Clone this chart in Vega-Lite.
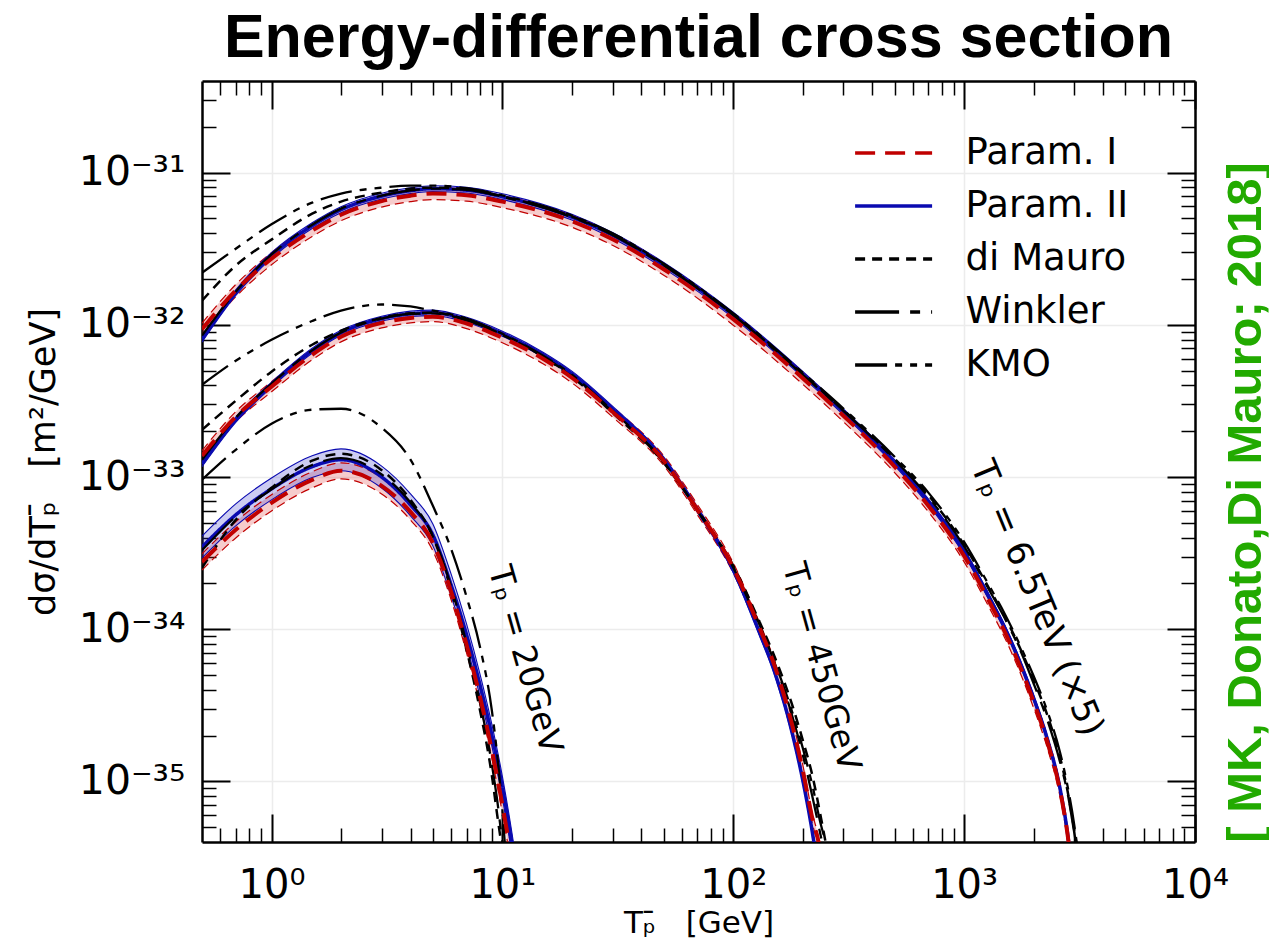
{
"$schema": "https://vega.github.io/schema/vega-lite/v6.json",
"width": 993, "height": 761,
"autosize": {"type": "none"},
"padding": {"left": 202, "top": 81, "right": 74, "bottom": 99},
"background": "white",
"title": {"text": "Energy-differential cross section", "font": "Liberation Sans", "fontSize": 61, "fontWeight": "bold", "color": "black", "anchor": "middle", "frame": "group", "baseline": "alphabetic", "offset": -38},
"datasets": {
"curves": [
{"g":"c","m":"Param. II","x":0.5,"y":8.04e-33,"lo":7.69e-33,"hi":8.40e-33},
{"g":"c","m":"Param. II","x":0.7,"y":1.63e-32,"lo":1.56e-32,"hi":1.70e-32},
{"g":"c","m":"Param. II","x":1,"y":2.85e-32,"lo":2.73e-32,"hi":2.98e-32},
{"g":"c","m":"Param. II","x":1.5,"y":4.48e-32,"lo":4.29e-32,"hi":4.68e-32},
{"g":"c","m":"Param. II","x":2,"y":5.71e-32,"lo":5.46e-32,"hi":5.97e-32},
{"g":"c","m":"Param. II","x":3,"y":7.01e-32,"lo":6.71e-32,"hi":7.33e-32},
{"g":"c","m":"Param. II","x":4,"y":7.61e-32,"lo":7.28e-32,"hi":7.95e-32},
{"g":"c","m":"Param. II","x":5,"y":7.85e-32,"lo":7.51e-32,"hi":8.20e-32},
{"g":"c","m":"Param. II","x":7,"y":7.67e-32,"lo":7.34e-32,"hi":8.02e-32},
{"g":"c","m":"Param. II","x":10,"y":6.95e-32,"lo":6.65e-32,"hi":7.26e-32},
{"g":"c","m":"Param. II","x":20,"y":5.10e-32,"lo":4.88e-32,"hi":5.33e-32},
{"g":"c","m":"Param. II","x":30,"y":3.88e-32,"lo":3.71e-32,"hi":4.05e-32},
{"g":"c","m":"Param. II","x":50,"y":2.46e-32,"lo":2.35e-32,"hi":2.57e-32},
{"g":"c","m":"Param. II","x":100,"y":1.16e-32,"lo":1.11e-32,"hi":1.21e-32},
{"g":"c","m":"Param. II","x":200,"y":4.73e-33,"lo":4.53e-33,"hi":4.94e-33},
{"g":"c","m":"Param. II","x":300,"y":2.68e-33,"lo":2.56e-33,"hi":2.80e-33},
{"g":"c","m":"Param. II","x":500,"y":1.24e-33,"lo":1.19e-33,"hi":1.30e-33},
{"g":"c","m":"Param. II","x":700,"y":6.87e-34,"lo":6.57e-34,"hi":7.18e-34},
{"g":"c","m":"Param. II","x":1000,"y":3.22e-34,"lo":3.08e-34,"hi":3.36e-34},
{"g":"c","m":"Param. II","x":1300,"y":1.56e-34,"lo":1.49e-34,"hi":1.63e-34},
{"g":"c","m":"Param. II","x":1500,"y":1.02e-34,"lo":9.76e-35,"hi":1.066e-34},
{"g":"c","m":"Param. II","x":1800,"y":5.40e-35,"lo":5.17e-35,"hi":5.64e-35},
{"g":"c","m":"Param. II","x":2000,"y":3.53e-35,"lo":3.38e-35,"hi":3.69e-35},
{"g":"c","m":"Param. II","x":2300,"y":1.87e-35,"lo":1.79e-35,"hi":1.95e-35},
{"g":"c","m":"Param. II","x":2600,"y":9.05e-36,"lo":8.66e-36,"hi":9.46e-36},
{"g":"c","m":"Param. II","x":2800,"y":4.65e-36,"lo":4.45e-36,"hi":4.86e-36},
{"g":"c","m":"Param. II","x":2900,"y":3.04e-36,"lo":2.91e-36,"hi":3.18e-36},

{"g":"c","m":"Param. I","x":0.5,"y":9.36e-33,"lo":8.55e-33,"hi":1.025e-32},
{"g":"c","m":"Param. I","x":0.7,"y":1.68e-32,"lo":1.53e-32,"hi":1.84e-32},
{"g":"c","m":"Param. I","x":1,"y":2.72e-32,"lo":2.48e-32,"hi":2.98e-32},
{"g":"c","m":"Param. I","x":1.5,"y":4.16e-32,"lo":3.80e-32,"hi":4.56e-32},
{"g":"c","m":"Param. I","x":2,"y":5.29e-32,"lo":4.83e-32,"hi":5.79e-32},
{"g":"c","m":"Param. I","x":3,"y":6.50e-32,"lo":5.94e-32,"hi":7.12e-32},
{"g":"c","m":"Param. I","x":4,"y":7.06e-32,"lo":6.45e-32,"hi":7.73e-32},
{"g":"c","m":"Param. I","x":5,"y":7.28e-32,"lo":6.65e-32,"hi":7.97e-32},
{"g":"c","m":"Param. I","x":7,"y":7.11e-32,"lo":6.49e-32,"hi":7.79e-32},
{"g":"c","m":"Param. I","x":10,"y":6.45e-32,"lo":5.89e-32,"hi":7.06e-32},
{"g":"c","m":"Param. I","x":20,"y":4.80e-32,"lo":4.38e-32,"hi":5.26e-32},
{"g":"c","m":"Param. I","x":30,"y":3.65e-32,"lo":3.33e-32,"hi":4.00e-32},
{"g":"c","m":"Param. I","x":50,"y":2.32e-32,"lo":2.12e-32,"hi":2.54e-32},
{"g":"c","m":"Param. I","x":100,"y":1.09e-32,"lo":9.95e-33,"hi":1.19e-32},
{"g":"c","m":"Param. I","x":200,"y":4.46e-33,"lo":4.07e-33,"hi":4.88e-33},
{"g":"c","m":"Param. I","x":300,"y":2.53e-33,"lo":2.31e-33,"hi":2.77e-33},
{"g":"c","m":"Param. I","x":500,"y":1.17e-33,"lo":1.07e-33,"hi":1.28e-33},
{"g":"c","m":"Param. I","x":700,"y":6.47e-34,"lo":5.91e-34,"hi":7.08e-34},
{"g":"c","m":"Param. I","x":1000,"y":3.03e-34,"lo":2.77e-34,"hi":3.32e-34},
{"g":"c","m":"Param. I","x":1300,"y":1.47e-34,"lo":1.34e-34,"hi":1.61e-34},
{"g":"c","m":"Param. I","x":1500,"y":9.60e-35,"lo":8.77e-35,"hi":1.051e-34},
{"g":"c","m":"Param. I","x":1800,"y":5.08e-35,"lo":4.64e-35,"hi":5.56e-35},
{"g":"c","m":"Param. I","x":2000,"y":3.33e-35,"lo":3.04e-35,"hi":3.65e-35},
{"g":"c","m":"Param. I","x":2300,"y":1.79e-35,"lo":1.63e-35,"hi":1.96e-35},
{"g":"c","m":"Param. I","x":2600,"y":8.77e-36,"lo":8.01e-36,"hi":9.60e-36},
{"g":"c","m":"Param. I","x":2800,"y":4.58e-36,"lo":4.18e-36,"hi":5.02e-36},
{"g":"c","m":"Param. I","x":2900,"y":3.04e-36,"lo":2.78e-36,"hi":3.33e-36},

{"g":"c","m":"di Mauro","x":0.5,"y":1.44e-32},
{"g":"c","m":"di Mauro","x":0.7,"y":2.45e-32},
{"g":"c","m":"di Mauro","x":1,"y":3.63e-32},
{"g":"c","m":"di Mauro","x":1.5,"y":5.37e-32},
{"g":"c","m":"di Mauro","x":2,"y":6.45e-32},
{"g":"c","m":"di Mauro","x":3,"y":7.39e-32},
{"g":"c","m":"di Mauro","x":4,"y":7.85e-32},
{"g":"c","m":"di Mauro","x":5,"y":7.97e-32},
{"g":"c","m":"di Mauro","x":7,"y":7.8e-32},
{"g":"c","m":"di Mauro","x":10,"y":6.98e-32},
{"g":"c","m":"di Mauro","x":20,"y":5.15e-32},
{"g":"c","m":"di Mauro","x":30,"y":3.95e-32},
{"g":"c","m":"di Mauro","x":50,"y":2.48e-32},
{"g":"c","m":"di Mauro","x":100,"y":1.17e-32},
{"g":"c","m":"di Mauro","x":200,"y":4.75e-33},
{"g":"c","m":"di Mauro","x":300,"y":2.75e-33},
{"g":"c","m":"di Mauro","x":500,"y":1.32e-33},
{"g":"c","m":"di Mauro","x":700,"y":7.6e-34},
{"g":"c","m":"di Mauro","x":1000,"y":3.58e-34},
{"g":"c","m":"di Mauro","x":1300,"y":1.79e-34},
{"g":"c","m":"di Mauro","x":1500,"y":1.21e-34},
{"g":"c","m":"di Mauro","x":1800,"y":6.78e-35},
{"g":"c","m":"di Mauro","x":2000,"y":4.64e-35},
{"g":"c","m":"di Mauro","x":2300,"y":2.69e-35},
{"g":"c","m":"di Mauro","x":2600,"y":1.45e-35},
{"g":"c","m":"di Mauro","x":2800,"y":8.77e-36},
{"g":"c","m":"di Mauro","x":3000,"y":4.79e-36},
{"g":"c","m":"di Mauro","x":3100,"y":3.5e-36},

{"g":"c","m":"KMO","x":0.5,"y":2.20e-32},
{"g":"c","m":"KMO","x":0.7,"y":3.16e-32},
{"g":"c","m":"KMO","x":1,"y":4.58e-32},
{"g":"c","m":"KMO","x":1.5,"y":6.35e-32},
{"g":"c","m":"KMO","x":2,"y":7.28e-32},
{"g":"c","m":"KMO","x":3,"y":7.97e-32},
{"g":"c","m":"KMO","x":4,"y":8.21e-32},
{"g":"c","m":"KMO","x":5,"y":8.21e-32},
{"g":"c","m":"KMO","x":7,"y":7.9e-32},
{"g":"c","m":"KMO","x":10,"y":7.08e-32},
{"g":"c","m":"KMO","x":20,"y":5.22e-32},
{"g":"c","m":"KMO","x":30,"y":4.0e-32},
{"g":"c","m":"KMO","x":50,"y":2.52e-32},
{"g":"c","m":"KMO","x":100,"y":1.19e-32},
{"g":"c","m":"KMO","x":200,"y":4.85e-33},
{"g":"c","m":"KMO","x":300,"y":2.82e-33},
{"g":"c","m":"KMO","x":500,"y":1.36e-33},
{"g":"c","m":"KMO","x":700,"y":7.9e-34},
{"g":"c","m":"KMO","x":1000,"y":3.75e-34},
{"g":"c","m":"KMO","x":1300,"y":1.87e-34},
{"g":"c","m":"KMO","x":1500,"y":1.26e-34},
{"g":"c","m":"KMO","x":1800,"y":7.10e-35},
{"g":"c","m":"KMO","x":2000,"y":4.93e-35},
{"g":"c","m":"KMO","x":2300,"y":2.86e-35},
{"g":"c","m":"KMO","x":2600,"y":1.56e-35},
{"g":"c","m":"KMO","x":2800,"y":9.46e-36},
{"g":"c","m":"KMO","x":3000,"y":5.16e-36},
{"g":"c","m":"KMO","x":3100,"y":3.6e-36},

{"g":"c","m":"Winkler","x":0.5,"y":8.5e-33},
{"g":"c","m":"Winkler","x":0.7,"y":1.65e-32},
{"g":"c","m":"Winkler","x":1,"y":2.9e-32},
{"g":"c","m":"Winkler","x":1.5,"y":4.55e-32},
{"g":"c","m":"Winkler","x":2,"y":5.8e-32},
{"g":"c","m":"Winkler","x":3,"y":7.05e-32},
{"g":"c","m":"Winkler","x":4,"y":7.65e-32},
{"g":"c","m":"Winkler","x":5,"y":7.85e-32},
{"g":"c","m":"Winkler","x":7,"y":7.7e-32},
{"g":"c","m":"Winkler","x":10,"y":6.95e-32},
{"g":"c","m":"Winkler","x":20,"y":5.1e-32},
{"g":"c","m":"Winkler","x":30,"y":3.9e-32},
{"g":"c","m":"Winkler","x":50,"y":2.46e-32},
{"g":"c","m":"Winkler","x":100,"y":1.16e-32},
{"g":"c","m":"Winkler","x":200,"y":4.7e-33},
{"g":"c","m":"Winkler","x":300,"y":2.72e-33},
{"g":"c","m":"Winkler","x":500,"y":1.3e-33},
{"g":"c","m":"Winkler","x":700,"y":7.4e-34},
{"g":"c","m":"Winkler","x":1000,"y":3.5e-34},
{"g":"c","m":"Winkler","x":1300,"y":1.75e-34},
{"g":"c","m":"Winkler","x":1500,"y":1.18e-34},
{"g":"c","m":"Winkler","x":1800,"y":6.6e-35},
{"g":"c","m":"Winkler","x":2000,"y":4.4e-35},
{"g":"c","m":"Winkler","x":2300,"y":2.5e-35},
{"g":"c","m":"Winkler","x":2600,"y":1.35e-35},
{"g":"c","m":"Winkler","x":2800,"y":8.5e-36},
{"g":"c","m":"Winkler","x":3000,"y":4.6e-36},
{"g":"c","m":"Winkler","x":3100,"y":3.4e-36},

{"g":"b","m":"Param. II","x":0.5,"y":1.22e-33,"lo":1.17e-33,"hi":1.27e-33},
{"g":"b","m":"Param. II","x":0.7,"y":2.38e-33,"lo":2.29e-33,"hi":2.48e-33},
{"g":"b","m":"Param. II","x":1,"y":4.04e-33,"lo":3.88e-33,"hi":4.20e-33},
{"g":"b","m":"Param. II","x":1.5,"y":6.76e-33,"lo":6.50e-33,"hi":7.03e-33},
{"g":"b","m":"Param. II","x":2,"y":8.87e-33,"lo":8.53e-33,"hi":9.22e-33},
{"g":"b","m":"Param. II","x":3,"y":1.10e-32,"lo":1.06e-32,"hi":1.14e-32},
{"g":"b","m":"Param. II","x":4,"y":1.18e-32,"lo":1.135e-32,"hi":1.23e-32},
{"g":"b","m":"Param. II","x":5,"y":1.20e-32,"lo":1.15e-32,"hi":1.25e-32},
{"g":"b","m":"Param. II","x":7,"y":1.08e-32,"lo":1.04e-32,"hi":1.12e-32},
{"g":"b","m":"Param. II","x":10,"y":8.74e-33,"lo":8.40e-33,"hi":9.09e-33},
{"g":"b","m":"Param. II","x":15,"y":6.36e-33,"lo":6.12e-33,"hi":6.61e-33},
{"g":"b","m":"Param. II","x":20,"y":4.77e-33,"lo":4.59e-33,"hi":4.96e-33},
{"g":"b","m":"Param. II","x":30,"y":2.81e-33,"lo":2.70e-33,"hi":2.92e-33},
{"g":"b","m":"Param. II","x":50,"y":1.30e-33,"lo":1.25e-33,"hi":1.35e-33},
{"g":"b","m":"Param. II","x":70,"y":6.09e-34,"lo":5.86e-34,"hi":6.33e-34},
{"g":"b","m":"Param. II","x":100,"y":2.45e-34,"lo":2.36e-34,"hi":2.55e-34},
{"g":"b","m":"Param. II","x":130,"y":9.46e-35,"lo":9.10e-35,"hi":9.84e-35},
{"g":"b","m":"Param. II","x":150,"y":5.40e-35,"lo":5.19e-35,"hi":5.62e-35},
{"g":"b","m":"Param. II","x":180,"y":2.08e-35,"lo":2.00e-35,"hi":2.16e-35},
{"g":"b","m":"Param. II","x":200,"y":1.02e-35,"lo":9.81e-36,"hi":1.06e-35},
{"g":"b","m":"Param. II","x":220,"y":4.65e-36,"lo":4.47e-36,"hi":4.84e-36},
{"g":"b","m":"Param. II","x":230,"y":3.0e-36,"lo":2.88e-36,"hi":3.12e-36},

{"g":"b","m":"Param. I","x":0.5,"y":1.38e-33,"lo":1.28e-33,"hi":1.49e-33},
{"g":"b","m":"Param. I","x":0.7,"y":2.49e-33,"lo":2.31e-33,"hi":2.69e-33},
{"g":"b","m":"Param. I","x":1,"y":3.92e-33,"lo":3.63e-33,"hi":4.23e-33},
{"g":"b","m":"Param. I","x":1.5,"y":6.36e-33,"lo":5.89e-33,"hi":6.87e-33},
{"g":"b","m":"Param. I","x":2,"y":8.35e-33,"lo":7.73e-33,"hi":9.02e-33},
{"g":"b","m":"Param. I","x":3,"y":1.03e-32,"lo":9.54e-33,"hi":1.11e-32},
{"g":"b","m":"Param. I","x":4,"y":1.11e-32,"lo":1.03e-32,"hi":1.20e-32},
{"g":"b","m":"Param. I","x":5,"y":1.13e-32,"lo":1.05e-32,"hi":1.22e-32},
{"g":"b","m":"Param. I","x":7,"y":1.02e-32,"lo":9.44e-33,"hi":1.10e-32},
{"g":"b","m":"Param. I","x":10,"y":8.23e-33,"lo":7.62e-33,"hi":8.89e-33},
{"g":"b","m":"Param. I","x":15,"y":5.99e-33,"lo":5.55e-33,"hi":6.47e-33},
{"g":"b","m":"Param. I","x":20,"y":4.49e-33,"lo":4.16e-33,"hi":4.85e-33},
{"g":"b","m":"Param. I","x":30,"y":2.68e-33,"lo":2.48e-33,"hi":2.89e-33},
{"g":"b","m":"Param. I","x":50,"y":1.28e-33,"lo":1.19e-33,"hi":1.38e-33},
{"g":"b","m":"Param. I","x":70,"y":6.09e-34,"lo":5.64e-34,"hi":6.58e-34},
{"g":"b","m":"Param. I","x":100,"y":2.53e-34,"lo":2.34e-34,"hi":2.73e-34},
{"g":"b","m":"Param. I","x":130,"y":1.02e-34,"lo":9.44e-35,"hi":1.10e-34},
{"g":"b","m":"Param. I","x":150,"y":5.92e-35,"lo":5.48e-35,"hi":6.39e-35},
{"g":"b","m":"Param. I","x":180,"y":2.35e-35,"lo":2.18e-35,"hi":2.54e-35},
{"g":"b","m":"Param. I","x":200,"y":1.19e-35,"lo":1.10e-35,"hi":1.29e-35},
{"g":"b","m":"Param. I","x":220,"y":5.74e-36,"lo":5.31e-36,"hi":6.20e-36},
{"g":"b","m":"Param. I","x":235,"y":3.9e-36,"lo":3.61e-36,"hi":4.21e-36},
{"g":"b","m":"Param. I","x":245,"y":2.8e-36,"lo":2.59e-36,"hi":3.02e-36},

{"g":"b","m":"di Mauro","x":0.5,"y":2.04e-33},
{"g":"b","m":"di Mauro","x":0.7,"y":3.17e-33},
{"g":"b","m":"di Mauro","x":1,"y":4.92e-33},
{"g":"b","m":"di Mauro","x":1.5,"y":7.40e-33},
{"g":"b","m":"di Mauro","x":2,"y":9.15e-33},
{"g":"b","m":"di Mauro","x":3,"y":1.11e-32},
{"g":"b","m":"di Mauro","x":4,"y":1.19e-32},
{"g":"b","m":"di Mauro","x":5,"y":1.20e-32},
{"g":"b","m":"di Mauro","x":7,"y":1.08e-32},
{"g":"b","m":"di Mauro","x":10,"y":8.61e-33},
{"g":"b","m":"di Mauro","x":15,"y":6.17e-33},
{"g":"b","m":"di Mauro","x":20,"y":4.56e-33},
{"g":"b","m":"di Mauro","x":30,"y":2.64e-33},
{"g":"b","m":"di Mauro","x":50,"y":1.24e-33},
{"g":"b","m":"di Mauro","x":70,"y":6.09e-34},
{"g":"b","m":"di Mauro","x":100,"y":2.61e-34},
{"g":"b","m":"di Mauro","x":130,"y":1.12e-34},
{"g":"b","m":"di Mauro","x":150,"y":6.78e-35},
{"g":"b","m":"di Mauro","x":180,"y":3.18e-35},
{"g":"b","m":"di Mauro","x":200,"y":1.87e-35},
{"g":"b","m":"di Mauro","x":220,"y":1.10e-35},
{"g":"b","m":"di Mauro","x":240,"y":5.74e-36},
{"g":"b","m":"di Mauro","x":260,"y":3.0e-36},

{"g":"b","m":"KMO","x":0.5,"y":4.04e-33},
{"g":"b","m":"KMO","x":0.7,"y":5.81e-33},
{"g":"b","m":"KMO","x":1,"y":7.98e-33},
{"g":"b","m":"KMO","x":1.5,"y":1.06e-32},
{"g":"b","m":"KMO","x":2,"y":1.24e-32},
{"g":"b","m":"KMO","x":3,"y":1.36e-32},
{"g":"b","m":"KMO","x":4,"y":1.32e-32},
{"g":"b","m":"KMO","x":5,"y":1.24e-32},
{"g":"b","m":"KMO","x":7,"y":1.10e-32},
{"g":"b","m":"KMO","x":10,"y":8.74e-33},
{"g":"b","m":"KMO","x":15,"y":6.27e-33},
{"g":"b","m":"KMO","x":20,"y":4.70e-33},
{"g":"b","m":"KMO","x":30,"y":2.72e-33},
{"g":"b","m":"KMO","x":50,"y":1.26e-33},
{"g":"b","m":"KMO","x":70,"y":6.09e-34},
{"g":"b","m":"KMO","x":100,"y":2.57e-34},
{"g":"b","m":"KMO","x":130,"y":1.07e-34},
{"g":"b","m":"KMO","x":150,"y":6.28e-35},
{"g":"b","m":"KMO","x":180,"y":2.86e-35},
{"g":"b","m":"KMO","x":200,"y":1.66e-35},
{"g":"b","m":"KMO","x":220,"y":9.46e-36},
{"g":"b","m":"KMO","x":240,"y":5.16e-36},
{"g":"b","m":"KMO","x":260,"y":3.5e-36},

{"g":"b","m":"Winkler","x":0.5,"y":1.3e-33},
{"g":"b","m":"Winkler","x":0.7,"y":2.45e-33},
{"g":"b","m":"Winkler","x":1,"y":4.1e-33},
{"g":"b","m":"Winkler","x":1.5,"y":6.8e-33},
{"g":"b","m":"Winkler","x":2,"y":8.9e-33},
{"g":"b","m":"Winkler","x":3,"y":1.1e-32},
{"g":"b","m":"Winkler","x":4,"y":1.18e-32},
{"g":"b","m":"Winkler","x":5,"y":1.19e-32},
{"g":"b","m":"Winkler","x":7,"y":1.07e-32},
{"g":"b","m":"Winkler","x":10,"y":8.6e-33},
{"g":"b","m":"Winkler","x":15,"y":6.2e-33},
{"g":"b","m":"Winkler","x":20,"y":4.6e-33},
{"g":"b","m":"Winkler","x":30,"y":2.68e-33},
{"g":"b","m":"Winkler","x":50,"y":1.25e-33},
{"g":"b","m":"Winkler","x":70,"y":6.0e-34},
{"g":"b","m":"Winkler","x":100,"y":2.55e-34},
{"g":"b","m":"Winkler","x":130,"y":1.05e-34},
{"g":"b","m":"Winkler","x":150,"y":6.2e-35},
{"g":"b","m":"Winkler","x":180,"y":2.7e-35},
{"g":"b","m":"Winkler","x":200,"y":1.5e-35},
{"g":"b","m":"Winkler","x":220,"y":8.0e-36},
{"g":"b","m":"Winkler","x":240,"y":4.3e-36},
{"g":"b","m":"Winkler","x":250,"y":3.2e-36},

{"g":"a","m":"Param. II","x":0.5,"y":3.47e-34,"lo":2.94e-34,"hi":4.09e-34},
{"g":"a","m":"Param. II","x":0.7,"y":5.64e-34,"lo":4.78e-34,"hi":6.66e-34},
{"g":"a","m":"Param. II","x":1,"y":8.36e-34,"lo":7.08e-34,"hi":9.86e-34},
{"g":"a","m":"Param. II","x":1.5,"y":1.17e-33,"lo":9.92e-34,"hi":1.38e-33},
{"g":"a","m":"Param. II","x":2,"y":1.30e-33,"lo":1.10e-33,"hi":1.53e-33},
{"g":"a","m":"Param. II","x":3,"y":1.0e-33,"lo":8.47e-34,"hi":1.18e-33},
{"g":"a","m":"Param. II","x":4,"y":6.56e-34,"lo":5.56e-34,"hi":7.74e-34},
{"g":"a","m":"Param. II","x":5,"y":4.17e-34,"lo":3.53e-34,"hi":4.92e-34},
{"g":"a","m":"Param. II","x":6,"y":1.95e-34,"lo":1.65e-34,"hi":2.30e-34},
{"g":"a","m":"Param. II","x":7,"y":9.18e-35,"lo":7.78e-35,"hi":1.08e-34},
{"g":"a","m":"Param. II","x":8,"y":4.30e-35,"lo":3.64e-35,"hi":5.07e-35},
{"g":"a","m":"Param. II","x":9,"y":2.02e-35,"lo":1.71e-35,"hi":2.38e-35},
{"g":"a","m":"Param. II","x":10,"y":9.18e-36,"lo":7.78e-36,"hi":1.08e-35},
{"g":"a","m":"Param. II","x":11,"y":3.9e-36,"lo":3.31e-36,"hi":4.60e-36},
{"g":"a","m":"Param. II","x":11.5,"y":2.5e-36,"lo":2.12e-36,"hi":2.95e-36},

{"g":"a","m":"Param. I","x":0.5,"y":2.77e-34,"lo":2.45e-34,"hi":3.13e-34},
{"g":"a","m":"Param. I","x":0.7,"y":4.50e-34,"lo":3.98e-34,"hi":5.09e-34},
{"g":"a","m":"Param. I","x":1,"y":6.77e-34,"lo":5.99e-34,"hi":7.65e-34},
{"g":"a","m":"Param. I","x":1.5,"y":9.59e-34,"lo":8.49e-34,"hi":1.084e-33},
{"g":"a","m":"Param. I","x":2,"y":1.10e-33,"lo":9.73e-34,"hi":1.24e-33},
{"g":"a","m":"Param. I","x":3,"y":8.75e-34,"lo":7.74e-34,"hi":9.89e-34},
{"g":"a","m":"Param. I","x":4,"y":5.90e-34,"lo":5.22e-34,"hi":6.67e-34},
{"g":"a","m":"Param. I","x":5,"y":3.69e-34,"lo":3.27e-34,"hi":4.17e-34},
{"g":"a","m":"Param. I","x":6,"y":1.76e-34,"lo":1.56e-34,"hi":1.99e-34},
{"g":"a","m":"Param. I","x":7,"y":7.88e-35,"lo":6.97e-35,"hi":8.90e-35},
{"g":"a","m":"Param. I","x":8,"y":3.59e-35,"lo":3.18e-35,"hi":4.06e-35},
{"g":"a","m":"Param. I","x":9,"y":1.61e-35,"lo":1.42e-35,"hi":1.82e-35},
{"g":"a","m":"Param. I","x":10,"y":7.0e-36,"lo":6.19e-36,"hi":7.91e-36},
{"g":"a","m":"Param. I","x":10.7,"y":3.9e-36,"lo":3.45e-36,"hi":4.41e-36},
{"g":"a","m":"Param. I","x":11.2,"y":2.6e-36,"lo":2.30e-36,"hi":2.94e-36},

{"g":"a","m":"di Mauro","x":0.5,"y":2.53e-34},
{"g":"a","m":"di Mauro","x":0.7,"y":5.23e-34},
{"g":"a","m":"di Mauro","x":1,"y":8.49e-34},
{"g":"a","m":"di Mauro","x":1.5,"y":1.28e-33},
{"g":"a","m":"di Mauro","x":2,"y":1.42e-33},
{"g":"a","m":"di Mauro","x":3,"y":1.11e-33},
{"g":"a","m":"di Mauro","x":4,"y":7.08e-34},
{"g":"a","m":"di Mauro","x":5,"y":4.05e-34},
{"g":"a","m":"di Mauro","x":6,"y":1.81e-34},
{"g":"a","m":"di Mauro","x":7,"y":7.31e-35},
{"g":"a","m":"di Mauro","x":8,"y":2.94e-35},
{"g":"a","m":"di Mauro","x":9,"y":1.10e-35},
{"g":"a","m":"di Mauro","x":9.5,"y":6.01e-36},
{"g":"a","m":"di Mauro","x":10,"y":3.5e-36},

{"g":"a","m":"KMO","x":0.5,"y":9.6e-34},
{"g":"a","m":"KMO","x":0.7,"y":1.51e-33},
{"g":"a","m":"KMO","x":1,"y":2.24e-33},
{"g":"a","m":"KMO","x":1.5,"y":2.77e-33},
{"g":"a","m":"KMO","x":2,"y":2.81e-33},
{"g":"a","m":"KMO","x":3,"y":2.11e-33},
{"g":"a","m":"KMO","x":4,"y":1.30e-33},
{"g":"a","m":"KMO","x":5,"y":6.47e-34},
{"g":"a","m":"KMO","x":6,"y":3.37e-34},
{"g":"a","m":"KMO","x":7,"y":1.63e-34},
{"g":"a","m":"KMO","x":8,"y":7.65e-35},
{"g":"a","m":"KMO","x":9,"y":2.94e-35},
{"g":"a","m":"KMO","x":9.5,"y":1.49e-35},
{"g":"a","m":"KMO","x":10,"y":6.49e-36},
{"g":"a","m":"KMO","x":10.3,"y":3.5e-36},

{"g":"a","m":"Winkler","x":0.5,"y":3.3e-34},
{"g":"a","m":"Winkler","x":0.7,"y":5.5e-34},
{"g":"a","m":"Winkler","x":1,"y":8.3e-34},
{"g":"a","m":"Winkler","x":1.5,"y":1.2e-33},
{"g":"a","m":"Winkler","x":2,"y":1.33e-33},
{"g":"a","m":"Winkler","x":3,"y":1.04e-33},
{"g":"a","m":"Winkler","x":4,"y":6.8e-34},
{"g":"a","m":"Winkler","x":5,"y":4.1e-34},
{"g":"a","m":"Winkler","x":6,"y":1.9e-34},
{"g":"a","m":"Winkler","x":7,"y":8.0e-35},
{"g":"a","m":"Winkler","x":8,"y":3.3e-35},
{"g":"a","m":"Winkler","x":9,"y":1.3e-35},
{"g":"a","m":"Winkler","x":9.5,"y":7.5e-36},
{"g":"a","m":"Winkler","x":10,"y":4.0e-36},
{"g":"a","m":"Winkler","x":10.3,"y":3.0e-36}
],
"labels": [
{"lab":"Tₚ = 20GeV","x":12.5,"y":6.3e-35},
{"lab":"Tₚ = 450GeV","x":240,"y":5.65e-35},
{"lab":"Tₚ = 6.5TeV (×5)","x":2070,"y":1.6e-34}
]
},
"resolve": {"axis": {"x": "independent", "y": "independent"}},
"layer": [
{
"data": {"name": "curves"},
"transform": [{"filter": "datum.m == 'Param. I'"}],
"mark": {"type": "area", "fill": "#dd3333", "fillOpacity": 0.25, "interpolate": "monotone", "clip": true},
"encoding": {
"x": {"field": "x", "type": "quantitative", "scale": {"type": "log", "domain": [0.5, 10000], "nice": false}, "axis": null},
"y": {"field": "lo", "type": "quantitative", "scale": {"type": "log", "domain": [4e-36, 4e-31], "nice": false}, "axis": null},
"y2": {"field": "hi"},
"detail": {"field": "g"}
}
},
{
"data": {"name": "curves"},
"transform": [{"filter": "datum.m == 'Param. II'"}],
"mark": {"type": "area", "fill": "#3333cc", "fillOpacity": 0.25, "interpolate": "monotone", "clip": true},
"encoding": {
"x": {"field": "x", "type": "quantitative", "scale": {"type": "log", "domain": [0.5, 10000], "nice": false}, "axis": null},
"y": {"field": "lo", "type": "quantitative", "scale": {"type": "log", "domain": [4e-36, 4e-31], "nice": false}, "axis": null},
"y2": {"field": "hi"},
"detail": {"field": "g"}
}
},
{
"data": {"name": "curves"},
"transform": [{"filter": "datum.m == 'Param. I'"}, {"fold": ["lo", "hi"], "as": ["k", "v"]}],
"mark": {"type": "line", "stroke": "#c00000", "strokeWidth": 1.2, "strokeDash": [9, 5], "interpolate": "monotone", "clip": true},
"encoding": {
"x": {"field": "x", "type": "quantitative", "scale": {"type": "log", "domain": [0.5, 10000], "nice": false}, "axis": null},
"y": {"field": "v", "type": "quantitative", "scale": {"type": "log", "domain": [4e-36, 4e-31], "nice": false}, "axis": null},
"detail": [{"field": "g"}, {"field": "k"}]
}
},
{
"data": {"name": "curves"},
"transform": [{"filter": "datum.m == 'Param. II'"}, {"fold": ["lo", "hi"], "as": ["k", "v"]}],
"mark": {"type": "line", "stroke": "#0a0ab0", "strokeWidth": 1.1, "interpolate": "monotone", "clip": true},
"encoding": {
"x": {"field": "x", "type": "quantitative", "scale": {"type": "log", "domain": [0.5, 10000], "nice": false}, "axis": null},
"y": {"field": "v", "type": "quantitative", "scale": {"type": "log", "domain": [4e-36, 4e-31], "nice": false}, "axis": null},
"detail": [{"field": "g"}, {"field": "k"}]
}
},
{
"data": {"name": "curves"},
"transform": [{"filter": "datum.m == 'Param. II'"}],
"mark": {"type": "line", "strokeWidth": 3.5, "interpolate": "monotone", "clip": true},
"encoding": {
"x": {"field": "x", "type": "quantitative", "scale": {"type": "log", "domain": [0.5, 10000], "nice": false},
  "axis": {"orient": "bottom", "values": [1, 10, 100, 1000, 10000], "labelExpr": "datum.value < 5 ? '10⁰' : datum.value < 50 ? '10¹' : datum.value < 500 ? '10²' : datum.value < 5000 ? '10³' : '10⁴'", "labelFontSize": 40, "labelFont": "DejaVu Sans", "labelColor": "black", "labelPadding": 51, "labelFlush": false, "labelOverlap": false, "tickSize": -28, "tickWidth": 2, "tickColor": "black", "domain": true, "domainColor": "black", "domainWidth": 2.5, "grid": true, "gridColor": "#ececec", "gridWidth": 1.5, "title": "Tₚ̄\u00a0\u00a0\u00a0[GeV]", "titleFont": "DejaVu Sans", "titleFontSize": 31, "titleFontWeight": "normal", "titleColor": "black", "titlePadding": 3}},
"y": {"field": "y", "type": "quantitative", "scale": {"type": "log", "domain": [4e-36, 4e-31], "nice": false},
  "axis": {"orient": "left", "values": [1e-35, 1e-34, 1e-33, 1e-32, 1e-31], "labelExpr": "datum.value < 5e-35 ? '10⁻³⁵' : datum.value < 5e-34 ? '10⁻³⁴' : datum.value < 5e-33 ? '10⁻³³' : datum.value < 5e-32 ? '10⁻³²' : '10⁻³¹'", "labelFontSize": 41, "labelFont": "DejaVu Sans", "labelColor": "black", "labelPadding": 45, "labelOverlap": false, "tickSize": -28, "tickWidth": 2, "tickColor": "black", "domain": true, "domainColor": "black", "domainWidth": 2.5, "grid": true, "gridColor": "#ececec", "gridWidth": 1.5, "title": "dσ/dTₚ̄\u00a0\u00a0\u00a0[m²/GeV]", "titleFont": "DejaVu Sans", "titleFontSize": 35, "titleFontWeight": "normal", "titleColor": "black", "titlePadding": 17}},
"color": {"field": "m", "type": "nominal", "title": null, "scale": {"domain": ["Param. I", "Param. II", "di Mauro", "Winkler", "KMO"], "range": ["#c00000", "#0a0ab0", "black", "black", "black"]},
  "legend": {"orient": "none", "legendX": 670.6, "legendY": 51, "symbolType": "M-2,0H2", "symbolSize": 1482, "symbolStrokeWidth": 3.5, "labelFontSize": 37, "labelFont": "DejaVu Sans", "labelColor": "black", "labelOffset": 51, "rowPadding": 14, "padding": 0, "labelLimit": 0}},
"strokeDash": {"field": "m", "type": "nominal", "title": null, "scale": {"domain": ["Param. I", "Param. II", "di Mauro", "Winkler", "KMO"], "range": [[20, 10], [1, 0], [10, 7], [44, 11, 10, 11], [32, 8, 7, 8, 7, 8]]},
  "legend": {"orient": "none", "legendX": 670.6, "legendY": 51, "symbolType": "M-2,0H2", "symbolSize": 1482, "symbolStrokeWidth": 3.5, "labelFontSize": 37, "labelFont": "DejaVu Sans", "labelColor": "black", "labelOffset": 51, "rowPadding": 14, "padding": 0, "labelLimit": 0}},
"detail": {"field": "g"}
}
},
{
"data": {"name": "curves"},
"transform": [{"filter": "datum.m == 'di Mauro'"}],
"mark": {"type": "line", "strokeWidth": 2.5, "interpolate": "monotone", "clip": true},
"encoding": {
"x": {"field": "x", "type": "quantitative", "scale": {"type": "log", "domain": [0.5, 10000], "nice": false},
  "axis": {"orient": "top", "values": [1, 10, 100, 1000, 10000], "labels": false, "tickSize": -28, "tickWidth": 2, "tickColor": "black", "domain": true, "domainColor": "black", "domainWidth": 2.5, "grid": false, "title": null}},
"y": {"field": "y", "type": "quantitative", "scale": {"type": "log", "domain": [4e-36, 4e-31], "nice": false},
  "axis": {"orient": "right", "values": [1e-35, 1e-34, 1e-33, 1e-32, 1e-31], "labels": false, "tickSize": -28, "tickWidth": 2, "tickColor": "black", "domain": true, "domainColor": "black", "domainWidth": 2.5, "grid": false, "title": "[ MK, Donato,Di Mauro; 2018]", "titleFont": "Liberation Sans", "titleFontWeight": "bold", "titleFontSize": 49, "titleColor": "#22aa00", "titleAngle": 270, "titleX": 50, "titleY": 421, "titleAlign": "center", "titleBaseline": "middle"}},
"color": {"field": "m", "type": "nominal", "title": null, "scale": {"domain": ["Param. I", "Param. II", "di Mauro", "Winkler", "KMO"], "range": ["#c00000", "#0a0ab0", "black", "black", "black"]}, "legend": null},
"strokeDash": {"field": "m", "type": "nominal", "title": null, "scale": {"domain": ["Param. I", "Param. II", "di Mauro", "Winkler", "KMO"], "range": [[20, 10], [1, 0], [10, 7], [44, 11, 10, 11], [32, 8, 7, 8, 7, 8]]}, "legend": null},
"detail": {"field": "g"}
}
},
{
"data": {"name": "curves"},
"transform": [{"filter": "datum.m == 'Winkler'"}],
"mark": {"type": "line", "strokeWidth": 2.3, "interpolate": "monotone", "clip": true},
"encoding": {
"x": {"field": "x", "type": "quantitative", "scale": {"type": "log", "domain": [0.5, 10000], "nice": false},
  "axis": {"orient": "top", "values": [0.6, 0.7, 0.8, 0.9, 2, 3, 4, 5, 6, 7, 8, 9, 20, 30, 40, 50, 60, 70, 80, 90, 200, 300, 400, 500, 600, 700, 800, 900, 2000, 3000, 4000, 5000, 6000, 7000, 8000, 9000], "labels": false, "tickSize": -14, "tickWidth": 1.5, "tickColor": "black", "domain": false, "grid": false, "title": null}},
"y": {"field": "y", "type": "quantitative", "scale": {"type": "log", "domain": [4e-36, 4e-31], "nice": false},
  "axis": {"orient": "right", "values": [5e-36, 6e-36, 7e-36, 8e-36, 9e-36, 2e-35, 3e-35, 4e-35, 5e-35, 6e-35, 7e-35, 8e-35, 9e-35, 2e-34, 3e-34, 4e-34, 5e-34, 6e-34, 7e-34, 8e-34, 9e-34, 2e-33, 3e-33, 4e-33, 5e-33, 6e-33, 7e-33, 8e-33, 9e-33, 2e-32, 3e-32, 4e-32, 5e-32, 6e-32, 7e-32, 8e-32, 9e-32, 2e-31, 3e-31], "labels": false, "tickSize": -14, "tickWidth": 1.5, "tickColor": "black", "domain": false, "grid": false, "title": null}},
"color": {"field": "m", "type": "nominal", "title": null, "scale": {"domain": ["Param. I", "Param. II", "di Mauro", "Winkler", "KMO"], "range": ["#c00000", "#0a0ab0", "black", "black", "black"]}, "legend": null},
"strokeDash": {"field": "m", "type": "nominal", "title": null, "scale": {"domain": ["Param. I", "Param. II", "di Mauro", "Winkler", "KMO"], "range": [[20, 10], [1, 0], [10, 7], [44, 11, 10, 11], [32, 8, 7, 8, 7, 8]]}, "legend": null},
"detail": {"field": "g"}
}
},
{
"data": {"name": "curves"},
"transform": [{"filter": "datum.m == 'KMO'"}],
"mark": {"type": "line", "strokeWidth": 2.3, "interpolate": "monotone", "clip": true},
"encoding": {
"x": {"field": "x", "type": "quantitative", "scale": {"type": "log", "domain": [0.5, 10000], "nice": false}, "axis": null},
"y": {"field": "y", "type": "quantitative", "scale": {"type": "log", "domain": [4e-36, 4e-31], "nice": false}, "axis": null},
"color": {"field": "m", "type": "nominal", "title": null, "scale": {"domain": ["Param. I", "Param. II", "di Mauro", "Winkler", "KMO"], "range": ["#c00000", "#0a0ab0", "black", "black", "black"]}, "legend": null},
"strokeDash": {"field": "m", "type": "nominal", "title": null, "scale": {"domain": ["Param. I", "Param. II", "di Mauro", "Winkler", "KMO"], "range": [[20, 10], [1, 0], [10, 7], [44, 11, 10, 11], [32, 8, 7, 8, 7, 8]]}, "legend": null},
"detail": {"field": "g"}
}
},
{
"data": {"name": "curves"},
"transform": [{"filter": "datum.m == 'Param. I'"}],
"mark": {"type": "line", "strokeWidth": 4, "interpolate": "monotone", "clip": true},
"encoding": {
"x": {"field": "x", "type": "quantitative", "scale": {"type": "log", "domain": [0.5, 10000], "nice": false},
  "axis": {"orient": "bottom", "values": [0.6, 0.7, 0.8, 0.9, 2, 3, 4, 5, 6, 7, 8, 9, 20, 30, 40, 50, 60, 70, 80, 90, 200, 300, 400, 500, 600, 700, 800, 900, 2000, 3000, 4000, 5000, 6000, 7000, 8000, 9000], "labels": false, "tickSize": -14, "tickWidth": 1.5, "tickColor": "black", "domain": false, "grid": false, "title": null}},
"y": {"field": "y", "type": "quantitative", "scale": {"type": "log", "domain": [4e-36, 4e-31], "nice": false},
  "axis": {"orient": "left", "values": [5e-36, 6e-36, 7e-36, 8e-36, 9e-36, 2e-35, 3e-35, 4e-35, 5e-35, 6e-35, 7e-35, 8e-35, 9e-35, 2e-34, 3e-34, 4e-34, 5e-34, 6e-34, 7e-34, 8e-34, 9e-34, 2e-33, 3e-33, 4e-33, 5e-33, 6e-33, 7e-33, 8e-33, 9e-33, 2e-32, 3e-32, 4e-32, 5e-32, 6e-32, 7e-32, 8e-32, 9e-32, 2e-31, 3e-31], "labels": false, "tickSize": -14, "tickWidth": 1.5, "tickColor": "black", "domain": false, "grid": false, "title": null}},
"color": {"field": "m", "type": "nominal", "title": null, "scale": {"domain": ["Param. I", "Param. II", "di Mauro", "Winkler", "KMO"], "range": ["#c00000", "#0a0ab0", "black", "black", "black"]}, "legend": null},
"strokeDash": {"field": "m", "type": "nominal", "title": null, "scale": {"domain": ["Param. I", "Param. II", "di Mauro", "Winkler", "KMO"], "range": [[20, 10], [1, 0], [10, 7], [44, 11, 10, 11], [32, 8, 7, 8, 7, 8]]}, "legend": null},
"detail": {"field": "g"}
}
},
{
"data": {"name": "labels"},
"transform": [{"filter": "datum.lab == 'Tₚ = 20GeV'"}],
"mark": {"type": "text", "angle": 74, "font": "DejaVu Sans", "fontSize": 33, "align": "center", "baseline": "middle", "color": "black"},
"encoding": {
"x": {"field": "x", "type": "quantitative", "scale": {"type": "log", "domain": [0.5, 10000], "nice": false}, "axis": null},
"y": {"field": "y", "type": "quantitative", "scale": {"type": "log", "domain": [4e-36, 4e-31], "nice": false}, "axis": null},
"text": {"field": "lab"}
}
},
{
"data": {"name": "labels"},
"transform": [{"filter": "datum.lab == 'Tₚ = 450GeV'"}],
"mark": {"type": "text", "angle": 74.5, "font": "DejaVu Sans", "fontSize": 33, "align": "center", "baseline": "middle", "color": "black"},
"encoding": {
"x": {"field": "x", "type": "quantitative", "scale": {"type": "log", "domain": [0.5, 10000], "nice": false}, "axis": null},
"y": {"field": "y", "type": "quantitative", "scale": {"type": "log", "domain": [4e-36, 4e-31], "nice": false}, "axis": null},
"text": {"field": "lab"}
}
},
{
"data": {"name": "labels"},
"transform": [{"filter": "datum.lab == 'Tₚ = 6.5TeV (×5)'"}],
"mark": {"type": "text", "angle": 67.5, "font": "DejaVu Sans", "fontSize": 35, "align": "center", "baseline": "middle", "color": "black"},
"encoding": {
"x": {"field": "x", "type": "quantitative", "scale": {"type": "log", "domain": [0.5, 10000], "nice": false}, "axis": null},
"y": {"field": "y", "type": "quantitative", "scale": {"type": "log", "domain": [4e-36, 4e-31], "nice": false}, "axis": null},
"text": {"field": "lab"}
}
}
],
"config": {"view": {"stroke": null}, "font": "DejaVu Sans"}
}
